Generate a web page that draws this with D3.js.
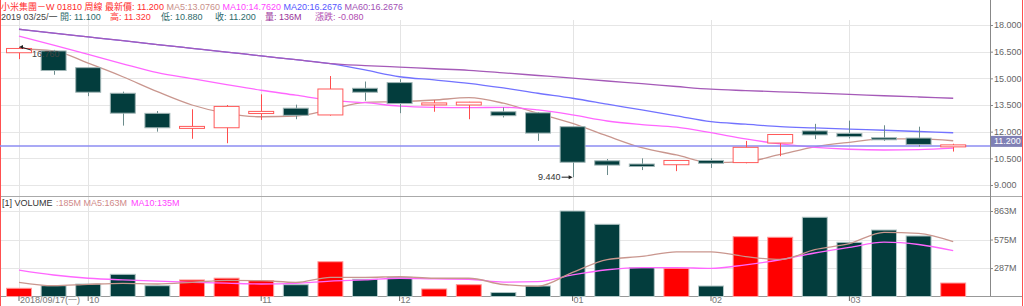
<!DOCTYPE html>
<html>
<head>
<meta charset="utf-8">
<script src="https://cdn.jsdelivr.net/npm/d3@7"></script>
<style>
  body { margin: 0; background: #fff; }
  svg { display: block; font-family: "Liberation Sans", Arial, "Noto Sans CJK TC", sans-serif; }
</style>
</head>
<body>
<div id="chart"></div>
<script>
// weekly bars, 1810.HK
const dates = ["2018/09/17","2018/09/24","2018/10/01","2018/10/08","2018/10/15","2018/10/22","2018/10/29",
  "2018/11/05","2018/11/12","2018/11/19","2018/11/26","2018/12/03","2018/12/10","2018/12/17","2018/12/24",
  "2018/12/31","2019/01/07","2019/01/14","2019/01/21","2019/01/28","2019/02/04","2019/02/11","2019/02/18",
  "2019/02/25","2019/03/04","2019/03/11","2019/03/18","2019/03/25"];
const open  = [16.44,16.54,15.60,14.16,13.03,12.20,12.22,13.02,13.32,12.94,14.44,14.76,13.52,13.50,13.12,13.06,12.28,10.36,10.18,10.14,10.38,10.26,11.36,12.04,11.90,11.60,11.64,11.10];
const high  = [16.76,16.60,15.62,14.25,13.16,13.26,13.50,14.10,13.52,15.13,14.82,14.95,13.78,13.68,13.36,13.10,12.30,10.46,10.50,10.40,10.50,11.48,11.86,12.44,12.62,12.36,12.28,11.32];
const low   = [16.08,15.20,14.00,12.34,12.00,11.60,11.35,12.66,12.70,12.90,13.74,13.04,13.12,12.70,12.80,11.48,9.44,9.56,9.84,9.78,9.96,10.22,10.62,11.58,11.62,11.48,11.16,10.88];
const close = [16.68,15.44,14.22,13.04,12.22,12.24,13.42,13.14,12.92,14.40,14.22,13.58,13.56,13.66,12.90,11.92,10.28,10.12,10.04,10.38,10.22,11.12,11.84,11.82,11.72,11.52,11.28,11.20];
const ma5  = [16.65,16.55,15.85,15.09,14.25,13.50,13.03,12.84,12.88,13.24,13.65,13.69,13.78,13.91,13.60,13.03,12.47,11.76,11.10,10.69,10.26,10.31,10.72,11.15,11.40,11.59,11.59,11.49];
const ma10 = [17.38,16.87,16.35,15.82,15.32,14.98,14.65,14.33,14.05,13.76,13.63,13.44,13.37,13.35,13.37,13.22,12.94,12.60,12.40,12.25,11.94,11.59,11.31,11.12,11.01,10.97,10.99,11.07];
const ma20 = [17.76,17.54,17.33,17.12,16.90,16.69,16.48,16.26,16.05,15.83,15.47,15.09,14.91,14.72,14.46,14.16,13.88,13.55,13.22,12.89,12.56,12.42,12.28,12.21,12.14,12.08,12.01,11.94];
const ma60 = [17.76,17.54,17.33,17.12,16.90,16.69,16.48,16.26,16.05,15.83,15.72,15.63,15.54,15.45,15.31,15.16,15.01,14.85,14.70,14.54,14.39,14.31,14.24,14.17,14.10,14.02,13.95,13.88];
// volume in millions
const volume = [83,109,126,224,109,167,185,160,119,351,174,194,76,119,40,106,863,729,291,285,106,604,598,800,547,671,611,136];
const volMa5  = [143,109,123,133,126,143,163,160,143,194,194,200,184,184,121,104,243,373,404,450,450,403,374,474,534,648,638,553];
const volMa10 = [267,217,184,167,156,143,135,126,133,156,167,184,177,174,145,150,218,270,292,292,283,320,371,439,495,548,525,464];
const priceTicks = [9, 10.5, 12, 13.5, 15, 16.5, 18];
const volTicks = [287, 575, 863];

const W = 1024, H = 306;
const n = dates.length;
const svg = d3.select("#chart").append("svg").attr("width", W).attr("height", H);

const x = d3.scaleBand().domain(dates).range([1.7, 970.5]).paddingInner(0.25).paddingOuter(0.125);
const bw = x.bandwidth();
const cx = d => x(d) + bw / 2;
const y = d3.scaleLinear().domain([9, 18]).range([185, 25]);
const yv = d3.scaleLinear().domain([0, 863]).range([296.5, 211]);

// month ticks: first bar plus first week of each month
const tickDates = dates.filter((d, i) => i === 0 || d.slice(5, 7) !== dates[i - 1].slice(5, 7));

// grids
svg.append("g").selectAll("line").data(priceTicks).join("line")
  .attr("x1", 0).attr("x2", 990).attr("y1", d => Math.round(y(d)) + 0.5).attr("y2", d => Math.round(y(d)) + 0.5)
  .attr("stroke", "#e6e6e6");
svg.append("g").selectAll("line").data(volTicks).join("line")
  .attr("x1", 0).attr("x2", 990).attr("y1", d => Math.round(yv(d)) + 0.5).attr("y2", d => Math.round(yv(d)) + 0.5)
  .attr("stroke", "#e6e6e6");
svg.append("g").selectAll("line").data(tickDates).join("line")
  .attr("x1", d => Math.round(cx(d)) + 0.5).attr("x2", d => Math.round(cx(d)) + 0.5)
  .attr("y1", 20).attr("y2", 296).attr("stroke", "#e4e4e4");

// frame
svg.append("line").attr("x1", 0).attr("x2", 1022).attr("y1", 196.5).attr("y2", 196.5).attr("stroke", "#aaa");
svg.append("line").attr("x1", 0).attr("x2", 1022).attr("y1", 296.5).attr("y2", 296.5).attr("stroke", "#999");
svg.append("line").attr("x1", 990.5).attr("x2", 990.5).attr("y1", 0).attr("y2", 296).attr("stroke", "#888");
svg.append("line").attr("x1", 0.5).attr("x2", 0.5).attr("y1", 0).attr("y2", H).attr("stroke", "#ff5050");
svg.append("line").attr("x1", 1022.5).attr("x2", 1022.5).attr("y1", 0).attr("y2", H).attr("stroke", "#ff5050");

// moving averages (price)
const line = arr => d3.line().x((d, i) => cx(dates[i])).y(d => y(d)).curve(d3.curveMonotoneX)(arr);
[[ma5, "#c9968e"], [ma10, "#ff66ff"], [ma20, "#7272ff"], [ma60, "#a55ab8"]].forEach(([arr, c]) => {
  svg.append("path").attr("d", line(arr)).attr("fill", "none").attr("stroke", c).attr("stroke-width", 1.3);
});

// last price line
const last = close[n - 1];
svg.append("line").attr("x1", 0).attr("x2", 990).attr("y1", y(last)).attr("y2", y(last))
  .attr("stroke", "#8c8cf2").attr("stroke-width", 1.5);

// candles
const up = i => close[i] >= open[i];
const cg = svg.append("g");
cg.selectAll("line").data(dates).join("line")
  .attr("x1", d => Math.round(cx(d)) + 0.5).attr("x2", d => Math.round(cx(d)) + 0.5)
  .attr("y1", (d, i) => y(high[i])).attr("y2", (d, i) => y(low[i]))
  .attr("stroke", (d, i) => up(i) ? "#ff4d4d" : "#6b8b8b");
cg.selectAll("rect").data(dates).join("rect")
  .attr("x", d => x(d) + 0.5).attr("width", bw - 1)
  .attr("y", (d, i) => Math.min(y(open[i]), y(close[i])) - (Math.abs(y(open[i]) - y(close[i])) < 2 ? 1 : 0))
  .attr("height", (d, i) => Math.max(Math.abs(y(open[i]) - y(close[i])), 2))
  .attr("fill", (d, i) => up(i) ? "#fff" : "#033d3d")
  .attr("stroke", (d, i) => up(i) ? "#ff5a5a" : "#9fb4b4");

// high / low marks
const hi = d3.maxIndex(high), lo = d3.minIndex(low);
const hx = cx(dates[hi]), hy = y(high[hi]);
svg.append("line").attr("x1", hx + 12).attr("x2", hx + 2).attr("y1", hy + 3).attr("y2", hy).attr("stroke", "#222");
svg.append("path").attr("d", `M${hx},${hy} l4,-2 l0,4 z`).attr("fill", "#222");
svg.append("text").attr("x", hx + 13).attr("y", hy + 10).attr("font-size", 9).attr("fill", "#444")
  .text(high[hi].toFixed(3));
const lx = cx(dates[lo]), ly = y(low[lo]);
svg.append("line").attr("x1", lx - 11).attr("x2", lx - 2).attr("y1", ly).attr("y2", ly).attr("stroke", "#222");
svg.append("path").attr("d", `M${lx},${ly} l-4,-2 l0,4 z`).attr("fill", "#222");
svg.append("text").attr("x", lx - 12).attr("y", ly + 3).attr("text-anchor", "end").attr("font-size", 9).attr("fill", "#333")
  .text(low[lo].toFixed(3));

// volume bars
svg.append("g").selectAll("rect").data(dates).join("rect")
  .attr("x", d => x(d) + 0.5).attr("width", bw - 1)
  .attr("y", (d, i) => yv(volume[i])).attr("height", (d, i) => yv(0) - yv(volume[i]))
  .attr("fill", (d, i) => up(i) ? "#ff0000" : "#033d3d")
  .attr("stroke", (d, i) => up(i) ? "#ff9a9a" : "#b2c6c6");
const vline = arr => d3.line().x((d, i) => cx(dates[i])).y(d => yv(d)).curve(d3.curveMonotoneX)(arr);
svg.append("path").attr("d", vline(volMa10)).attr("fill", "none").attr("stroke", "#ff66ff").attr("stroke-width", 1.3);
svg.append("path").attr("d", vline(volMa5)).attr("fill", "none").attr("stroke", "#c9968e").attr("stroke-width", 1.3);

// right axes
const pa = svg.append("g").attr("transform", "translate(990,0)")
  .call(d3.axisRight(y).tickValues(priceTicks).tickSize(3).tickFormat(d3.format(".3f")));
const va = svg.append("g").attr("transform", "translate(990,0)")
  .call(d3.axisRight(yv).tickValues(volTicks).tickSize(3).tickFormat(d => d + "M"));
[pa, va].forEach(g => {
  g.select(".domain").remove();
  g.selectAll("line").attr("stroke", "#888");
  g.selectAll("text").attr("x", 4).attr("font-size", 9).attr("fill", "#666").attr("font-family", null);
});

// last price tag
svg.append("rect").attr("x", 991).attr("y", y(last) - 10).attr("width", 31).attr("height", 11).attr("fill", "#7f80b5");
svg.append("text").attr("x", 994).attr("y", y(last) - 1.5).attr("font-size", 9).attr("fill", "#fff")
  .text(last.toFixed(3));

// bottom axis
const xa = svg.append("g").attr("transform", "translate(0,296)")
  .call(d3.axisBottom(x).tickValues(tickDates).tickSize(5)
    .tickFormat((d, i) => i === 0 ? d + "(一)" : d.slice(5, 7)));
xa.select(".domain").remove();
xa.selectAll("line").attr("stroke", "#666");
xa.selectAll("text").attr("text-anchor", "start").attr("x", 1).attr("y", 1)
  .attr("font-size", 9).attr("fill", "#777").attr("font-family", null);

// headers: flowing text, or [text, colour, x] when placed
function header(yPos, segs) {
  const t = svg.append("text").attr("x", 1).attr("y", yPos).attr("font-size", 9).style("white-space", "pre");
  segs.forEach(([s, c, px], i) => {
    const ts = t.append("tspan").attr("fill", c).text((i && px == null ? " " : "") + s);
    if (px != null) ts.attr("x", px);
  });
}
header(10, [["小米集團－W 01810 周線 最新價: " + last.toFixed(3), "#ff2b2b"],
  ["MA5:13.0760", "#c98f8a"], ["MA10:14.7620", "#ff44ff"], ["MA20:16.2676", "#5555ff"], ["MA60:16.2676", "#a24fb5"]]);
header(20, [["2019 03/25/一", "#444", 1],
  ["開: " + open[n - 1].toFixed(3), "#2e6b6b", 60], ["高: " + high[n - 1].toFixed(3), "#ff3333", 110],
  ["低: " + low[n - 1].toFixed(3), "#2e6b6b", 161], ["收: " + close[n - 1].toFixed(3), "#2e6b6b", 215],
  ["量: " + volume[n - 1] + "M", "#993399", 265], ["漲跌: " + (close[n - 1] - close[n - 2]).toFixed(3), "#b04cb0", 315]]);
header(206, [["[1] VOLUME", "#333", 2], [":185M MA5:163M", "#d08a8a", 56], ["MA10:135M", "#ff44ff", 131]]);
</script>
</body>
</html>
